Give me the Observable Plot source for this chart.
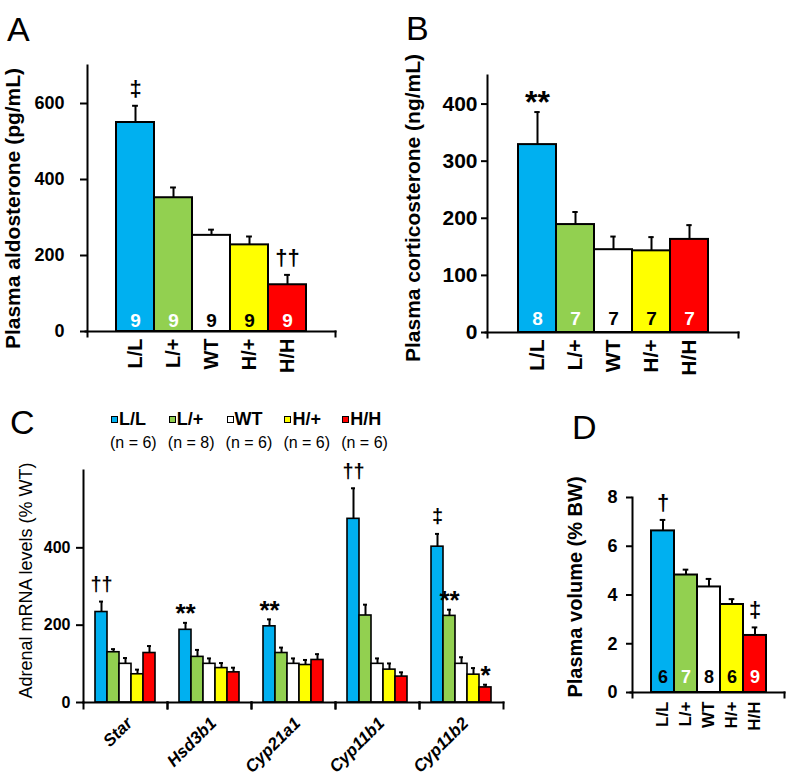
<!DOCTYPE html>
<html><head><meta charset="utf-8">
<script src="https://cdn.jsdelivr.net/npm/d3@7"></script>
<script src="https://cdn.jsdelivr.net/npm/@observablehq/plot@0.6"></script>
<style>
body{margin:0;background:#fff;}
#fig{position:relative;width:798px;height:777px;overflow:hidden;font-family:"Liberation Sans",Arial,Helvetica,sans-serif;color:#000;}
#fig svg{position:absolute;}
.letter{position:absolute;font-size:34px;line-height:1;font-weight:normal;}
.sw{position:absolute;width:5px;height:5px;border:1.5px solid #000;}
.lg{position:absolute;font-size:18px;font-weight:bold;line-height:20px;white-space:nowrap;}
.ln{position:absolute;font-size:16px;line-height:20px;white-space:nowrap;}
</style></head><body><div id="fig"></div>
<script>
const FONT = '"Liberation Sans", Arial, Helvetica, sans-serif';
const genotypes = ["L/L", "L/+", "WT", "H/+", "H/H"];
const genotypeColors = ["#00B0F0", "#92D050", "#FFFFFF", "#FFFF00", "#FF0000"];

// Panel A: plasma aldosterone (pg/mL)
const aldoMean = [550, 352, 253, 228, 123];
const aldoSem = [44, 27, 15, 22, 26];
const aldoN = [9, 9, 9, 9, 9];
const aldoSig = ["‡", "", "", "", "††"];
const aldoTicks = [0, 200, 400, 600];

// Panel B: plasma corticosterone (ng/mL)
const corticoMean = [329, 189, 145, 143, 163];
const corticoSem = [57, 22, 23, 24, 25];
const corticoN = [8, 7, 7, 7, 7];
const corticoSig = ["**", "", "", "", ""];
const corticoTicks = [0, 100, 200, 300, 400];

// Panel C: adrenal mRNA levels (% WT), per gene, genotype order as above
const genes = ["Star", "Hsd3b1", "Cyp21a1", "Cyp11b1", "Cyp11b2"];
const starMean = [234, 130, 100, 73, 128];
const starSem = [27, 8, 15, 12, 18];
const starSig = ["††", "", "", "", ""];
const hsd3b1Mean = [188, 118, 100, 89, 78];
const hsd3b1Sem = [18, 18, 14, 13, 12];
const hsd3b1Sig = ["**", "", "", "", ""];
const cyp21a1Mean = [197, 128, 100, 97, 110];
const cyp21a1Sem = [18, 14, 14, 13, 15];
const cyp21a1Sig = ["**", "", "", "", ""];
const cyp11b1Mean = [475, 225, 100, 85, 67];
const cyp11b1Sem = [79, 28, 14, 16, 11];
const cyp11b1Sig = ["††", "", "", "", ""];
const cyp11b2Mean = [403, 224, 100, 72, 39];
const cyp11b2Sem = [33, 16, 17, 17, 7];
const cyp11b2Sig = ["‡", "**", "", "", "*"];
const mrnaN = [6, 8, 6, 6, 6];
const mrnaTicks = [0, 200, 400];

// Panel D: plasma volume (% BW)
const pvMean = [6.63, 4.82, 4.33, 3.61, 2.34];
const pvSem = [0.45, 0.22, 0.33, 0.22, 0.33];
const pvN = [6, 7, 8, 6, 9];
const pvSig = ["†", "", "", "", "‡"];
const pvTicks = [0, 2, 4, 6, 8];

// label colours of the n counts (style only)
const nColorsAB = ["white", "white", "black", "black", "white"];
const nColorsD = ["black", "white", "black", "black", "white"];

const fig = document.getElementById("fig");

function rowsOf(means, sems, ns, sigs, nColors) {
  return genotypes.map((g, i) => ({
    genotype: g, mean: means[i], top: means[i] + sems[i],
    n: ns ? ns[i] : null, sig: sigs[i], fill: genotypeColors[i],
    nColor: nColors ? nColors[i] : null
  }));
}
const isAst = s => s.includes("*");

function barPanel(c) {
  const rows = rowsOf(c.means, c.sems, c.ns, c.sigs, c.nColors);
  const innerW = c.width - c.ml - c.mr;
  const innerH = c.height - c.mt - c.mb;
  const bw = innerW / (5 + 2 * c.padOuter);
  const capInset = Math.max(0, (bw - 6) / 2);
  const nText = (color) => Plot.text(rows.filter(d => d.nColor === color), {
    x: "genotype", text: "n", frameAnchor: "bottom", textAnchor: "middle", lineAnchor: "middle",
    dy: c.nDy, fill: color, fontSize: c.nFont, fontWeight: "bold"
  });
  const svg = Plot.plot({
    width: c.width, height: c.height,
    marginLeft: c.ml, marginRight: c.mr, marginTop: c.mt, marginBottom: c.mb,
    style: {fontFamily: FONT, background: "transparent", overflow: "visible", color: "black"},
    x: {domain: genotypes, paddingInner: 0, paddingOuter: c.padOuter},
    y: {domain: c.yDomain},
    color: {type: "identity"},
    marks: [
      Plot.ruleX(rows, {x: "genotype", y1: "mean", y2: "top", stroke: "black", strokeWidth: 2}),
      Plot.tickY(rows, {x: "genotype", y: "top", stroke: "black", strokeWidth: 2, insetLeft: capInset, insetRight: capInset}),
      Plot.barY(rows, {x: "genotype", y: "mean", fill: "fill", stroke: "black", strokeWidth: 2}),
      nText("white"),
      nText("black"),
      Plot.text(rows.filter(d => d.sig && !isAst(d.sig)), {x: "genotype", y: "top", text: "sig", dy: c.daggerDy, fontSize: c.daggerFont, fontWeight: "bold", fill: "black"}),
      Plot.text(rows.filter(d => d.sig && isAst(d.sig)), {x: "genotype", y: "top", text: "sig", dy: c.astDy, fontSize: c.astFont, fontWeight: "bold", fill: "black"}),
      Plot.frame({anchor: "left", strokeWidth: 2, insetBottom: -5}),
      Plot.frame({anchor: "bottom", strokeWidth: 2, insetLeft: -2}),
      Plot.frame({anchor: "right", strokeWidth: 2, insetTop: innerH, insetBottom: -5}),
      Plot.axisY({ticks: c.ticks, tickSize: c.tickSize, tickPadding: c.tickPadding, fontSize: c.tickFont, fontWeight: "bold", strokeWidth: 2, label: null, tickFormat: d => String(d)}),
      Plot.axisX({tickSize: 0, tickRotate: -90, tickPadding: c.xPad, fontSize: c.xFont, fontWeight: "bold", label: null}),
      Plot.text([c.yLabel], {frameAnchor: "left", textAnchor: "middle", rotate: -90, dx: c.labelDx, dy: c.labelDy, fontSize: c.labelFont, fontWeight: "bold", fill: "black"})
    ]
  });
  svg.style.left = c.left + "px";
  svg.style.top = c.top + "px";
  fig.appendChild(svg);
}

// Panel A
barPanel({
  left: 0, top: 0, width: 400, height: 400, ml: 87, mr: 65, mt: 65, mb: 69, padOuter: 0.75,
  means: aldoMean, sems: aldoSem, ns: aldoN, sigs: aldoSig, nColors: nColorsAB,
  yDomain: [0, 700], ticks: aldoTicks, tickSize: 7, tickPadding: 16, tickFont: 18,
  xPad: 7, xFont: 20, nFont: 19, nDy: -11,
  daggerFont: 22, daggerDy: -17, astFont: 32, astDy: -9,
  yLabel: "Plasma aldosterone (pg/mL)", labelDx: -74, labelDy: 10, labelFont: 21
});

// Panel B
barPanel({
  left: 400, top: 0, width: 398, height: 400, ml: 87, mr: 60, mt: 75, mb: 68, padOuter: 0.75,
  means: corticoMean, sems: corticoSem, ns: corticoN, sigs: corticoSig, nColors: nColorsAB,
  yDomain: [0, 450], ticks: corticoTicks, tickSize: 6, tickPadding: 4, tickFont: 21,
  xPad: 7, xFont: 21, nFont: 19, nDy: -14,
  daggerFont: 22, daggerDy: -17, astFont: 32, astDy: -9,
  yLabel: "Plasma corticosterone (ng/mL)", labelDx: -74, labelDy: 4, labelFont: 21
});

// Panel D
barPanel({
  left: 560, top: 400, width: 238, height: 377, ml: 72, mr: 14, mt: 97, mb: 85, padOuter: 0.75,
  means: pvMean, sems: pvSem, ns: pvN, sigs: pvSig, nColors: nColorsD,
  yDomain: [0, 8], ticks: pvTicks, tickSize: 6, tickPadding: 9, tickFont: 18,
  xPad: 9, xFont: 17, nFont: 18, nDy: -15,
  daggerFont: 22, daggerDy: -17, astFont: 30, astDy: -9,
  yLabel: "Plasma volume (% BW)", labelDx: -57, labelDy: -8, labelFont: 20
});

// Panel C (grouped by gene via fx facets)
{
  const geneMeans = [starMean, hsd3b1Mean, cyp21a1Mean, cyp11b1Mean, cyp11b2Mean];
  const geneSems = [starSem, hsd3b1Sem, cyp21a1Sem, cyp11b1Sem, cyp11b2Sem];
  const geneSigs = [starSig, hsd3b1Sig, cyp21a1Sig, cyp11b1Sig, cyp11b2Sig];
  const rows = genes.flatMap((gene, gi) =>
    rowsOf(geneMeans[gi], geneSems[gi], null, geneSigs[gi], null).map(d => ({...d, gene})));
  const W = 560, H = 377, ml = 81, mr = 56, mt = 70, mb = 75;
  const innerH = H - mt - mb;
  const facetW = (W - ml - mr) / genes.length;
  const bw = facetW / (5 + 2 * 0.75);
  const capInset = Math.max(0, (bw - 5) / 2);
  const svg = Plot.plot({
    width: W, height: H, marginLeft: ml, marginRight: mr, marginTop: mt, marginBottom: mb,
    style: {fontFamily: FONT, background: "transparent", overflow: "visible", color: "black"},
    fx: {domain: genes, padding: 0, axis: null, label: null},
    x: {domain: genotypes, paddingInner: 0, paddingOuter: 0.75, axis: null},
    y: {domain: [0, 600]},
    color: {type: "identity"},
    marks: [
      Plot.ruleX(rows, {fx: "gene", x: "genotype", y1: "mean", y2: "top", stroke: "black", strokeWidth: 2}),
      Plot.tickY(rows, {fx: "gene", x: "genotype", y: "top", stroke: "black", strokeWidth: 2, insetLeft: capInset, insetRight: capInset}),
      Plot.barY(rows, {fx: "gene", x: "genotype", y: "mean", fill: "fill", stroke: "black", strokeWidth: 1.6}),
      Plot.text(rows.filter(d => d.sig && !isAst(d.sig)), {fx: "gene", x: "genotype", y: "top", text: "sig", dy: -17, fontSize: 20, fontWeight: "bold", fill: "black"}),
      Plot.text(rows.filter(d => d.sig && isAst(d.sig)), {fx: "gene", x: "genotype", y: "top", text: "sig", dy: -9, fontSize: 26, fontWeight: "bold", fill: "black"}),
      Plot.frame({anchor: "bottom", strokeWidth: 2}),
      Plot.frame({anchor: "left", strokeWidth: 2, insetTop: innerH, insetBottom: -6}),
      Plot.frame({anchor: "right", strokeWidth: 2, insetTop: innerH, insetBottom: -6}),
      Plot.frame({anchor: "left", strokeWidth: 2, facetAnchor: "left"}),
      Plot.axisY({ticks: mrnaTicks, tickSize: 7, tickPadding: 6, fontSize: 16, fontWeight: "bold", strokeWidth: 2, label: null, facetAnchor: "left", tickFormat: d => String(d)}),
      Plot.text(genes, {fx: d => d, text: d => d, frameAnchor: "bottom", rotate: -45, textAnchor: "end", lineAnchor: "middle", dx: 4, dy: 18, fontSize: 17, fontWeight: "bold", fontStyle: "italic", fill: "black"}),
      Plot.text(["Adrenal mRNA levels (% WT)"], {fx: () => genes[0], frameAnchor: "left", textAnchor: "middle", rotate: -90, dx: -57, dy: -6, fontSize: 18, fill: "black"})
    ]
  });
  svg.style.left = "0px";
  svg.style.top = "400px";
  fig.appendChild(svg);

  // legend for panel C
  genotypes.forEach((g, i) => {
    const x = 111 + 57.8 * i;
    const sw = document.createElement("div");
    sw.className = "sw";
    sw.style.left = x + "px"; sw.style.top = "416px"; sw.style.background = genotypeColors[i];
    fig.appendChild(sw);
    const lg = document.createElement("div");
    lg.className = "lg"; lg.textContent = g;
    lg.style.left = (x + 8) + "px"; lg.style.top = "409px";
    fig.appendChild(lg);
    const ln = document.createElement("div");
    ln.className = "ln"; ln.textContent = "(n = " + mrnaN[i] + ")";
    ln.style.left = (x - 1) + "px"; ln.style.top = "433px";
    fig.appendChild(ln);
  });
}

// panel letters
[["A", 7, 12], ["B", 406, 11], ["C", 10, 405], ["D", 572, 410]].forEach(([t, x, y]) => {
  const d = document.createElement("div");
  d.className = "letter"; d.textContent = t;
  d.style.left = x + "px"; d.style.top = y + "px";
  fig.appendChild(d);
});
</script></body></html>
